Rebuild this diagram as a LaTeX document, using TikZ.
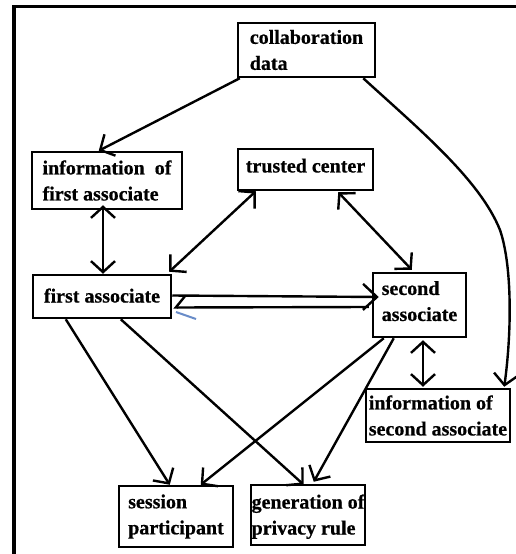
\documentclass[tikz,border=0pt]{standalone}
\usepackage{fontspec}
\setmainfont{Liberation Serif}[BoldFeatures={FakeBold=0.6}]
\usetikzlibrary{arrows.meta,calc}
\definecolor{strayblue}{RGB}{105,140,200}
\begin{document}
\begin{tikzpicture}[x=1pt,y=-1pt,
  box/.style={draw=black,line width=2.5pt,rectangle,inner sep=0pt,align=left,
    font=\fontsize{20}{26}\selectfont\bfseries},
  conn/.style={line width=2.4pt,draw=black},
  frame/.style={line width=3.5pt,draw=black}]
\useasboundingbox (0,0) rectangle (516,554);
\fill[white] (0,0) rectangle (516,554);
% outer frame
\coordinate (ftl) at (14,6.5);
\coordinate (ftr) at (516,6.5);
\coordinate (fbl) at (14,554);
\draw[frame] (fbl) -- (ftl) -- (ftr);
% nodes
\node[box,minimum width=137pt,minimum height=54pt] (collab) at (306.5,50) {collaboration\\data};
\node[box,minimum width=150pt,minimum height=57pt] (infoA) at (107,180.5) {information\ \ of\\first associate};
\node[box,minimum width=135pt,minimum height=41pt,text depth=8pt] (trusted) at (305.5,169.5) {trusted center};
\node[box,minimum width=138pt,minimum height=43pt,text depth=2pt] (firstA) at (102,296.5) {first associate};
\node[box,minimum width=93pt,minimum height=64pt,text depth=8pt] (secondA) at (419.5,305) {second\\associate};
\node[box,minimum width=144pt,minimum height=53pt] (infoB) at (438,415.5) {information of\\second associate};
\node[box,minimum width=114pt,minimum height=61pt] (session) at (176,516.5) {session\\participant};
\node[box,minimum width=114pt,minimum height=60pt,text depth=1pt] (genrule) at (308,515) {generation of\\privacy rule};
% connectors
\draw[conn,-{Straight Barb[length=11pt,width=24pt]}] ($(collab.south west)+(3,0)$) -- ($(infoA.north west)+(68,0)$);
\draw[conn,-{Straight Barb[length=11pt,width=24pt]}] ($(collab.south east)+(-13,0)$)
   .. controls (420,130) and (480,180) .. (500,230)
   .. controls (512,265) and (512,330) .. ($(infoB.north east)+(-7,-1)$);
\draw[conn,{Straight Barb[length=11pt,width=24pt]}-{Straight Barb[length=11pt,width=24pt]}] ($(infoA.south)+(-4,-5)$) -- ($(firstA.north)+(1,0)$);
\draw[conn,{Straight Barb[length=11pt,width=24pt]}-{Straight Barb[length=11pt,width=24pt]}] ($(trusted.south west)+(19,0)$) -- ($(firstA.north east)+(-3,-2)$);
\draw[conn,{Straight Barb[length=11pt,width=24pt]}-{Straight Barb[length=11pt,width=24pt]}] ($(trusted.south east)+(-36,1)$) -- ($(secondA.north west)+(40,-2)$);
\draw[conn,-{Straight Barb[length=14pt,width=26pt]}] ($(firstA.east)+(0,-1)$) -- ($(secondA.west)+(7,-8)$);
\draw[conn,{Straight Barb[harpoon,swap,length=9pt,width=22pt]}-] ($(firstA.east)+(1,11)$) -- ($(secondA.west)+(-3,2)$);
\coordinate (strayA) at (176,312);
\coordinate (strayB) at (196,319);
\draw[line width=2pt,strayblue] (strayA) -- (strayB);
\draw[conn,-{Straight Barb[length=11pt,width=24pt]}] ($(firstA.south west)+(34,0)$) -- ($(session.north west)+(52,0)$);
\draw[conn,-{Straight Barb[length=11pt,width=24pt]}] ($(firstA.south west)+(89,0)$) -- ($(genrule.north west)+(54,1)$);
\draw[conn,-{Straight Barb[length=11pt,width=24pt]}] ($(secondA.south west)+(12,0)$) -- ($(session.north west)+(83,0)$);
\draw[conn,-{Straight Barb[length=11pt,width=24pt]}] ($(secondA.south west)+(22,0)$) -- ($(genrule.north west)+(64,-2)$);
\draw[conn,{Straight Barb[length=11pt,width=24pt]}-{Straight Barb[length=11pt,width=24pt]}] ($(secondA.south)+(3.5,2)$) -- ($(infoB.north)+(-15,-1)$);
\end{tikzpicture}
\end{document}
